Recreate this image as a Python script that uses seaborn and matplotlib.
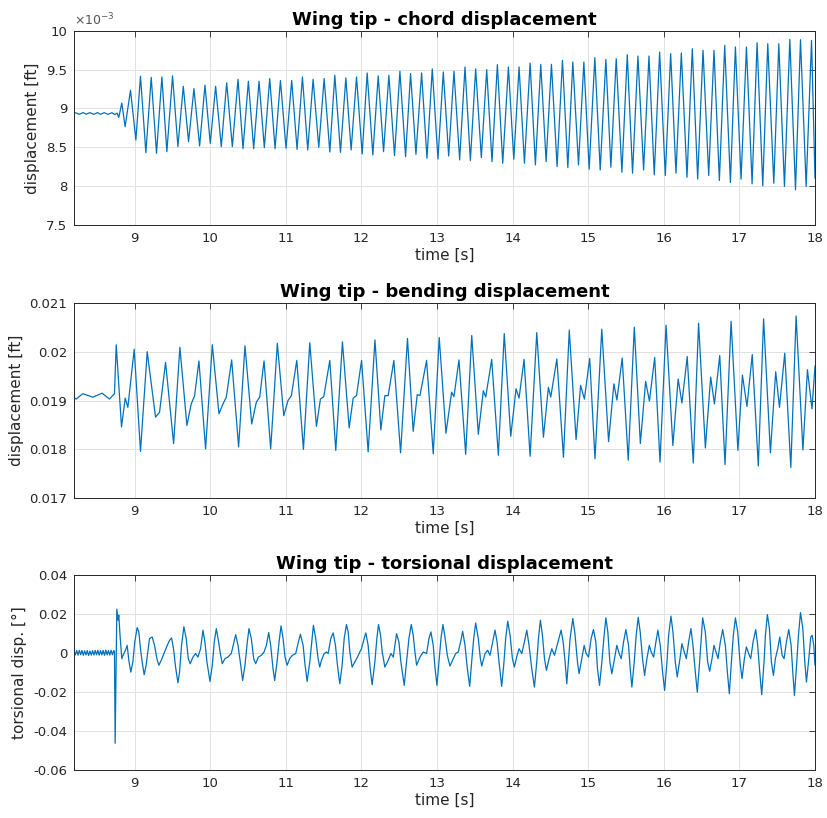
import numpy as np
import pandas as pd
import matplotlib
matplotlib.use("Agg")
import matplotlib.pyplot as plt
import seaborn as sns
from matplotlib.ticker import FuncFormatter, MultipleLocator

# ---------------- data ----------------
# chord displacement, values in 1e-3 ft
chord_t = [8.19, 8.22, 8.27, 8.32, 8.36, 8.41, 8.46, 8.51, 8.55, 8.60, 8.65, 8.70, 8.74, 8.77, 8.792,
           8.832, 8.876, 8.947, 9.018, 9.079, 9.150, 9.221, 9.291, 9.362, 9.428,
           9.503, 9.574, 9.645, 9.715, 9.786, 9.861, 9.932, 10.002, 10.073, 10.148,
           10.219, 10.294, 10.369, 10.435, 10.506, 10.576, 10.647, 10.717, 10.788, 10.859,
           10.930, 11.004, 11.079, 11.150, 11.221, 11.291, 11.362, 11.437,
           11.508, 11.583, 11.649, 11.724, 11.795, 11.865, 11.936, 12.011, 12.077, 12.152,
           12.223, 12.294, 12.364, 12.439, 12.510, 12.585, 12.651, 12.722, 12.797, 12.868,
           12.938, 13.013, 13.084, 13.155, 13.225, 13.300, 13.371, 13.442, 13.512, 13.587,
           13.658, 13.728, 13.799, 13.870, 13.945, 14.016, 14.086, 14.157, 14.232, 14.302,
           14.373, 14.444, 14.514, 14.589, 14.660, 14.731,
           14.797, 14.872, 14.943, 15.013, 15.088, 15.159, 15.234, 15.300, 15.371, 15.446,
           15.517, 15.587, 15.658, 15.733, 15.804, 15.874, 15.945, 16.020, 16.091, 16.161,
           16.232, 16.307, 16.377, 16.448, 16.519, 16.594, 16.664, 16.735, 16.806, 16.881,
           16.947, 17.022, 17.093, 17.168, 17.234, 17.309, 17.375, 17.455, 17.521, 17.596,
           17.667, 17.742, 17.808, 17.883, 17.954, 18.0]
chord_mft = [8.936, 8.945, 8.925, 8.947, 8.926, 8.946, 8.924, 8.947, 8.925, 8.946, 8.924, 8.945, 8.922, 8.94, 8.885,
             9.07, 8.765, 9.235, 8.594, 9.415, 8.432, 9.40, 8.423, 9.405, 8.444,
             9.42, 8.509, 9.285, 8.573, 9.255, 8.517, 9.30, 8.551, 9.285, 8.509,
             9.33, 8.509, 9.375, 8.483, 9.35, 8.483, 9.35, 8.496, 9.385, 8.483,
             9.36, 8.487, 9.36, 8.474, 9.405, 8.466, 9.375, 8.5,
             9.385, 8.44, 9.427, 8.436, 9.393, 8.466, 9.406, 8.415, 9.457, 8.402,
             9.419, 8.444, 9.427, 8.393, 9.479, 8.38, 9.449, 8.41, 9.457, 8.359,
             9.509, 8.35, 9.47, 8.389, 9.479, 8.338, 9.534, 8.329, 9.509, 8.368,
             9.5, 8.316, 9.564, 8.295, 9.534, 8.346, 9.534, 8.295, 9.585, 8.274,
             9.568, 8.316, 9.568, 8.252, 9.62, 8.239,
             9.598, 8.274, 9.598, 8.218, 9.654, 8.209, 9.632, 8.244, 9.641, 8.179,
             9.692, 8.167, 9.675, 8.209, 9.675, 8.145, 9.726, 8.137, 9.705, 8.167,
             9.714, 8.115, 9.769, 8.094, 9.748, 8.137, 9.748, 8.073, 9.812, 8.047,
             9.791, 8.09, 9.791, 8.03, 9.846, 8.004, 9.833, 8.038, 9.833, 7.996,
             9.889, 7.953, 9.885, 7.996, 9.876, 8.10]

# bending displacement, ft
bend_t = [8.19, 8.228, 8.316, 8.448, 8.572, 8.669, 8.735,
          8.758, 8.828, 8.877, 8.912, 8.996, 9.079, 9.168, 9.278, 9.331, 9.411, 9.517,
          9.600, 9.693, 9.75, 9.795, 9.852, 9.940,
          10.029, 10.117, 10.17, 10.214, 10.285, 10.377,
          10.461, 10.550, 10.612, 10.656, 10.713, 10.801,
          10.889, 10.974, 11.03, 11.075, 11.146, 11.234,
          11.318, 11.406, 11.459, 11.503, 11.583, 11.662,
          11.75, 11.839, 11.892, 11.936, 12.003, 12.090,
          12.18, 12.258, 12.311, 12.355, 12.430, 12.519,
          12.61, 12.686, 12.739, 12.775, 12.863, 12.951,
          13.03, 13.119, 13.194, 13.225, 13.291, 13.380,
          13.46, 13.547, 13.613, 13.645, 13.724, 13.812,
          13.89, 13.976, 14.046, 14.086, 14.152, 14.232,
          14.32, 14.408, 14.474, 14.505, 14.586, 14.673,
          14.75, 14.84, 14.90, 14.95, 15.02, 15.09,
          15.18, 15.27, 15.34, 15.38, 15.45, 15.53,
          15.61, 15.69, 15.76, 15.81, 15.88, 15.95,
          16.03, 16.12, 16.19, 16.24, 16.31, 16.39,
          16.46, 16.55, 16.62, 16.67, 16.74, 16.81,
          16.89, 16.98, 17.04, 17.10, 17.17, 17.25,
          17.32, 17.41, 17.48, 17.53, 17.60, 17.68,
          17.75, 17.84, 17.90, 17.96, 18.0]
bend_ft = [0.01907, 0.01903, 0.01914, 0.01907, 0.01915, 0.01903, 0.01914,
           0.02014, 0.01846, 0.01905, 0.01886, 0.02005, 0.01796, 0.0200, 0.01866, 0.01876, 0.01978, 0.01812,
           0.02009, 0.01849, 0.01893, 0.0191, 0.01981, 0.01801,
           0.02014, 0.01873, 0.01893, 0.01907, 0.01983, 0.01805,
           0.02012, 0.01852, 0.01897, 0.01907, 0.01981, 0.01801,
           0.02017, 0.01869, 0.0190, 0.0191, 0.01982, 0.0180,
           0.02018, 0.01847, 0.01903, 0.01908, 0.01982, 0.01798,
           0.0202, 0.01844, 0.01905, 0.0191, 0.01982, 0.01795,
           0.02024, 0.0184, 0.0191, 0.0191, 0.01982, 0.01793,
           0.02027, 0.01837, 0.01912, 0.0191, 0.01982, 0.01791,
           0.02029, 0.01833, 0.01917, 0.01908, 0.01983, 0.0179,
           0.02033, 0.01831, 0.0192, 0.01907, 0.01984, 0.01788,
           0.02037, 0.01827, 0.01924, 0.01905, 0.01984, 0.01786,
           0.02039, 0.01825, 0.01927, 0.01907, 0.01985, 0.01784,
           0.02044, 0.0182, 0.01931, 0.01903, 0.01986, 0.01781,
           0.02046, 0.01816, 0.01934, 0.01901, 0.01987, 0.01778,
           0.0205, 0.01812, 0.01939, 0.01899, 0.01988, 0.01774,
           0.02054, 0.01808, 0.01944, 0.01895, 0.0199, 0.01772,
           0.02058, 0.01803, 0.01948, 0.01893, 0.01992, 0.01769,
           0.02062, 0.01798, 0.01952, 0.01888, 0.01994, 0.01766,
           0.02067, 0.01793, 0.01959, 0.01886, 0.01997, 0.01763,
           0.02073, 0.01799, 0.01963, 0.01883, 0.01971]

# torsional displacement, degrees
tors_t = [8.200, 8.218, 8.235, 8.253, 8.270, 8.288, 8.305, 8.323, 8.340, 8.358,
          8.375, 8.393, 8.410, 8.428, 8.445, 8.463, 8.480, 8.498, 8.515, 8.533,
          8.550, 8.568, 8.585, 8.603, 8.620, 8.638, 8.655, 8.673, 8.690, 8.708, 8.725,
          8.735, 8.744, 8.766, 8.784, 8.792, 8.810, 8.832, 8.859, 8.881, 8.903,
          8.925, 8.951, 8.978, 9.004, 9.035, 9.057, 9.079, 9.101, 9.128, 9.154,
          9.181, 9.199, 9.234, 9.265, 9.296, 9.322, 9.353, 9.397, 9.433, 9.464,
          9.490, 9.516, 9.543, 9.574, 9.596, 9.622, 9.653, 9.684, 9.711, 9.737,
          9.773, 9.808, 9.839, 9.874, 9.905, 9.931, 9.958, 9.998, 10.029, 10.055,
          10.082, 10.112, 10.135, 10.161, 10.196, 10.236, 10.280, 10.316, 10.338, 10.369,
          10.399, 10.430, 10.461, 10.492, 10.514, 10.545, 10.576, 10.603, 10.638, 10.678,
          10.713, 10.744, 10.775, 10.801, 10.832, 10.854, 10.885, 10.912, 10.938, 10.965,
          10.991, 11.018, 11.053, 11.088, 11.132, 11.168, 11.194, 11.230, 11.256, 11.283,
          11.318, 11.344, 11.366, 11.397, 11.428,
          11.450, 11.472, 11.508, 11.539, 11.561, 11.596, 11.627, 11.658, 11.684, 11.715,
          11.746, 11.773, 11.803, 11.826, 11.848, 11.878, 11.914, 11.949, 11.980, 12.002,
          12.037, 12.059, 12.090, 12.117, 12.143, 12.179, 12.205, 12.227, 12.254, 12.276,
          12.311, 12.355, 12.391, 12.422, 12.444, 12.466, 12.497, 12.523, 12.567, 12.598,
          12.629, 12.660, 12.686, 12.709, 12.731, 12.775, 12.819, 12.863, 12.894, 12.920,
          12.951, 12.973, 13.000, 13.026, 13.053, 13.079, 13.106, 13.137, 13.172, 13.216,
          13.247, 13.282, 13.313, 13.340, 13.371, 13.402, 13.433, 13.459, 13.486, 13.512,
          13.547, 13.574, 13.592, 13.636, 13.671, 13.702, 13.737, 13.768, 13.795, 13.821,
          13.856, 13.883, 13.909, 13.936, 13.967, 13.998, 14.024, 14.060, 14.086, 14.121,
          14.157, 14.188, 14.218, 14.254, 14.289, 14.320, 14.342, 14.368, 14.395, 14.422,
          14.448, 14.483, 14.519, 14.554, 14.589, 14.642, 14.669, 14.695,
          14.717, 14.761, 14.797, 14.827, 14.858, 14.880, 14.916, 14.947, 14.973, 15.004,
          15.039, 15.070, 15.101, 15.123, 15.150, 15.181, 15.207, 15.234, 15.260, 15.287,
          15.313, 15.348, 15.379, 15.410, 15.437, 15.468, 15.499, 15.534, 15.556, 15.578,
          15.609, 15.635, 15.662, 15.688, 15.719, 15.746, 15.777, 15.808, 15.834, 15.865,
          15.896, 15.922, 15.953, 15.984, 16.011, 16.042, 16.064, 16.095, 16.121, 16.152,
          16.178, 16.214, 16.240, 16.271, 16.298, 16.329, 16.359, 16.386, 16.417, 16.443,
          16.474, 16.496, 16.514, 16.549, 16.580, 16.607, 16.638, 16.664, 16.691, 16.717,
          16.748, 16.779, 16.814, 16.841, 16.867, 16.894, 16.920, 16.947, 16.978, 17.008,
          17.035, 17.066, 17.092, 17.123, 17.150, 17.181, 17.216, 17.242, 17.269, 17.295,
          17.326, 17.344, 17.370, 17.397, 17.423, 17.450, 17.476, 17.507, 17.534, 17.565,
          17.591, 17.622, 17.653, 17.684, 17.706, 17.728, 17.759, 17.781, 17.808, 17.839,
          17.865, 17.887, 17.918, 17.944, 17.962, 17.984, 18.0]
tors_deg = [0.0012, -0.0010, 0.0013, -0.0011, 0.0014, -0.0009, 0.0013, -0.0012, 0.0011, -0.0010,
            0.0012, -0.0013, 0.0010, -0.0011, 0.0012, -0.0010, 0.0013, -0.0009, 0.0014, -0.0011,
            0.0012, -0.0010, 0.0013, -0.0012, 0.0015, -0.0010, 0.0013, -0.0011, 0.0014, -0.0009, 0.0012,
            0.0008, -0.0463, 0.0225, 0.0168, 0.0194, 0.0082, -0.0029, -0.0003, 0.0014, 0.0039,
            -0.0038, -0.0098, -0.0046, 0.0057, 0.0130, 0.0108, 0.0022, -0.0046, -0.0111, -0.0063,
            0.0022, 0.0074, 0.0082, 0.0039, -0.0029, -0.0063, -0.0038, 0.0005, 0.0039, 0.0065,
            0.0077, 0.0022, -0.0072, -0.0153, -0.0098, 0.0039, 0.0134, 0.0074, -0.0029, -0.0055,
            -0.0021, -0.0003, -0.0021, 0.0022, 0.0117, 0.0057, -0.0046, -0.0146, -0.0063, 0.0057,
            0.0125, 0.0057, -0.0003, -0.0055, -0.0029, -0.0021, -0.0003, 0.0057, 0.0094, 0.0039,
            -0.0046, -0.0141, -0.0063, 0.0057, 0.0125, 0.0074, -0.0029, -0.0055, -0.0021, -0.0012,
            0.0005, 0.0039, 0.0105, 0.0039, -0.0081, -0.0141, -0.0046, 0.0057, 0.0139, 0.0074,
            -0.0021, -0.0063, -0.0029, -0.0012, -0.0003, 0.0057, 0.0096, 0.0039, -0.0063, -0.0146,
            -0.0046, 0.0057, 0.0142, 0.0074, -0.0029,
            -0.0072, -0.0038, -0.0003, 0.0005, -0.0003, 0.0074, 0.0103, 0.0039, -0.0063, -0.0158,
            -0.0063, 0.0074, 0.0146, 0.0108, 0.0005, -0.0072, -0.0046, -0.0021, 0.0005, 0.0022,
            0.0074, 0.0103, 0.0039, -0.0081, -0.0163, -0.0046, 0.0074, 0.0146, 0.0091, 0.0005,
            -0.0072, -0.0038, -0.0003, -0.0021, 0.0039, 0.0099, 0.0057, -0.0046, -0.0166, -0.0046,
            0.0074, 0.0146, 0.0091, 0.0005, -0.0063, -0.0021, 0.0005, -0.0003, 0.0074, 0.0108,
            0.0039, -0.0072, -0.0166, -0.0046, 0.0074, 0.0146, 0.0082, -0.0012, -0.0067, -0.0029,
            -0.0003, 0.0005, 0.0057, 0.0111, 0.0039, -0.0081, -0.0171, -0.0046, 0.0074, 0.0154,
            0.0074, -0.0029, -0.0067, -0.0003, 0.0014, -0.0012, 0.0057, 0.0117, 0.0057, -0.0046,
            -0.0171, -0.0063, 0.0074, 0.0163, 0.0091, -0.0029, -0.0072, -0.0012, 0.0022, -0.0003,
            0.0057, 0.0117, 0.0039, -0.0081, -0.0175, -0.0046, 0.0074, 0.0168, 0.0091, -0.0029,
            -0.0089, -0.0029, 0.0022, -0.0012, 0.0039, 0.0117, 0.0057, -0.0046,
            -0.0158, 0.0074, 0.0177, 0.0091, -0.0046, -0.0106, -0.0029, 0.0039, -0.0003, -0.0021,
            0.0074, 0.0120, 0.0057, -0.0081, -0.0166, -0.0046, 0.0074, 0.0180, 0.0108, -0.0046,
            -0.0106, -0.0029, 0.0039, -0.0003, -0.0029, 0.0057, 0.0120, 0.0039, -0.0081, -0.0175,
            -0.0046, 0.0091, 0.0183, 0.0108, -0.0029, -0.0115, -0.0029, 0.0039, 0.0005, -0.0021,
            0.0057, 0.0117, 0.0039, -0.0098, -0.0192, -0.0046, 0.0091, 0.0189, 0.0108, -0.0046,
            -0.0123, -0.0029, 0.0048, 0.0005, -0.0029, 0.0057, 0.0125, 0.0039, -0.0098, -0.0201,
            -0.0046, 0.0074, 0.0180, 0.0108, -0.0046, -0.0094, -0.0029, 0.0039, 0.0005, -0.0029,
            0.0057, 0.0120, 0.0039, -0.0098, -0.0209, -0.0046, 0.0091, 0.0180, 0.0108, -0.0046,
            -0.0132, -0.0029, 0.0031, -0.0003, -0.0029, 0.0057, 0.0120, 0.0039, -0.0098, -0.0214,
            -0.0046, 0.0091, 0.0197, 0.0125, -0.0046, -0.0115, -0.0029, 0.0022, 0.0082, -0.0012,
            -0.0029, 0.0057, 0.0120, 0.0039, -0.0098, -0.0218, -0.0046, 0.0091, 0.0207, 0.0125,
            -0.0046, -0.0149, -0.0029, 0.0082, 0.0091, 0.0039, -0.0063]

assert len(chord_t) == len(chord_mft)
assert len(bend_t) == len(bend_ft)
assert len(tors_t) == len(tors_deg)

titles = ["Wing tip - chord displacement",
          "Wing tip - bending displacement",
          "Wing tip - torsional displacement"]
ylabels = ["displacement [ft]", "displacement [ft]", "torsional disp. [°]"]
x_ticks = [9, 10, 11, 12, 13, 14, 15, 16, 17, 18]

# ---------------- figure ----------------
sns.set_theme(style="whitegrid")
plt.rcParams['font.family'] = ['DejaVu Sans']
plt.rcParams['axes.unicode_minus'] = False

LINE = '#0072BD'
DARK = '#262626'

fig = plt.figure(figsize=(8.27, 8.18), dpi=100)
fig.patch.set_facecolor('white')
positions = [[0.0895, 0.7249, 0.896, 0.2375],
             [0.0895, 0.3908, 0.896, 0.2391],
             [0.0895, 0.0587, 0.896, 0.2384]]

frames = [
    pd.DataFrame({'t': chord_t, 'y': np.array(chord_mft) * 1e-3}),
    pd.DataFrame({'t': bend_t, 'y': bend_ft}),
    pd.DataFrame({'t': tors_t, 'y': tors_deg}),
]
ylims = [(7.5e-3, 10e-3), (0.017, 0.021), (-0.06, 0.04)]
ysteps = [0.5e-3, 0.001, 0.02]

def gfmt(v, _):
    v = round(v, 7) + 0.0
    return f"{v:g}"

def chordfmt(v, _):
    v = round(v * 1e3, 4) + 0.0
    return f"{v:g}"

for i in range(3):
    ax = fig.add_axes(positions[i])
    ax.set_facecolor('white')
    sns.lineplot(data=frames[i], x='t', y='y', ax=ax, color=LINE, lw=0.9,
                 sort=False, estimator=None)
    ax.set_xlim(8.2, 18)
    ax.set_ylim(*ylims[i])
    ax.set_xticks(x_ticks)
    ax.yaxis.set_major_locator(MultipleLocator(ysteps[i]))
    ax.yaxis.set_major_formatter(FuncFormatter(chordfmt if i == 0 else gfmt))
    ax.grid(True, color='#e2e2e2', lw=0.7)
    for s in ax.spines.values():
        s.set_visible(True)
        s.set_color(DARK)
        s.set_linewidth(0.7)
    ax.tick_params(direction='in', length=4, width=0.6, top=True, right=True,
                   colors=DARK, labelsize=9.5, pad=5)
    ax.set_title(titles[i], fontsize=13, fontweight='bold', pad=4, color='black')
    ax.set_xlabel('time [s]', fontsize=11, color=DARK, labelpad=2)
    ax.set_ylabel(ylabels[i], fontsize=11, color=DARK, labelpad=4)
    if i == 0:
        ax.text(0.0, 1.015, r'$\times10^{-3}$', transform=ax.transAxes,
                fontsize=9, color='#555555', ha='left', va='bottom')

fig.savefig('out.png', dpi=100, facecolor='white')
